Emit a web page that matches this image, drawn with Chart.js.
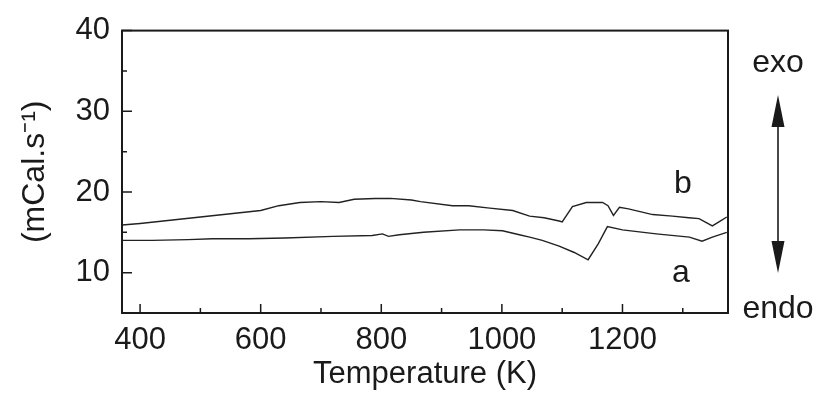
<!DOCTYPE html>
<html>
<head>
<meta charset="utf-8">
<script src="https://cdn.jsdelivr.net/npm/chart.js@4/dist/chart.umd.min.js"></script>
<style>
  html, body { margin: 0; padding: 0; background: #fff; }
  #wrap { width: 817px; height: 406px; }
</style>
</head>
<body>
<div id="wrap"><canvas id="dscChart" width="817" height="406"></canvas></div>
<script>
// DSC traces (temperature in K, heat flow in mCal/s)
const tempA = [370, 420, 480, 520, 580, 640, 720, 785, 802, 812, 830, 870, 930, 970, 1001, 1029, 1046, 1067, 1095, 1120, 1143, 1160, 1175, 1200, 1256, 1311, 1332, 1349, 1373];
const curveA = [14.0, 14.0, 14.1, 14.2, 14.2, 14.3, 14.5, 14.6, 14.8, 14.5, 14.7, 15.0, 15.3, 15.3, 15.2, 14.7, 14.4, 14.0, 13.3, 12.5, 11.6, 13.6, 15.7, 15.3, 14.8, 14.4, 13.9, 14.4, 15.0];

const tempB = [370, 400, 450, 500, 550, 600, 630, 665, 700, 730, 755, 790, 815, 850, 865, 918, 945, 980, 1018, 1046, 1070, 1095, 1100, 1117, 1140, 1167, 1176, 1185, 1195, 1210, 1250, 1283, 1310, 1327, 1349, 1360, 1373];
const curveB = [15.9, 16.1, 16.5, 16.9, 17.3, 17.7, 18.3, 18.7, 18.8, 18.7, 19.1, 19.2, 19.2, 19.0, 18.8, 18.3, 18.3, 18.0, 17.7, 17.0, 16.8, 16.4, 16.3, 18.2, 18.7, 18.7, 18.3, 17.1, 18.1, 17.9, 17.2, 17.0, 16.8, 16.7, 15.8, 16.3, 16.9];

const xTicks = [400, 600, 800, 1000, 1200];
const xMinor = [500, 700, 900, 1100, 1300];
const yTicks = [10, 20, 30, 40];
const yMinor = [15, 25, 35];

const FONT = '"Liberation Sans", Arial, Helvetica, sans-serif';
const INK = '#1a1a1a';

const toPoints = (xs, ys) => xs.map((x, i) => ({ x, y: ys[i] }));

// frame, inward ticks and the text notes
const decor = {
  id: 'decor',
  afterDraw(chart) {
    const { ctx, chartArea: a, scales: { x, y } } = chart;
    ctx.save();
    ctx.strokeStyle = INK;
    ctx.lineWidth = 2;
    ctx.strokeRect(a.left, a.top, a.right - a.left, a.bottom - a.top);

    ctx.lineWidth = 1.5;
    ctx.beginPath();
    xTicks.concat(xMinor).forEach(v => {
      const px = x.getPixelForValue(v);
      const len = xTicks.includes(v) ? 9 : 5;
      ctx.moveTo(px, a.bottom);
      ctx.lineTo(px, a.bottom - len);
    });
    yTicks.concat(yMinor).forEach(v => {
      const py = y.getPixelForValue(v);
      const len = yTicks.includes(v) ? 10 : 5;
      ctx.moveTo(a.left, py);
      ctx.lineTo(a.left + len, py);
    });
    ctx.stroke();

    ctx.fillStyle = INK;
    ctx.font = '32px ' + FONT;
    ctx.textAlign = 'center';
    ctx.textBaseline = 'alphabetic';
    ctx.fillText('b', x.getPixelForValue(1300), 193);
    ctx.fillText('a', x.getPixelForValue(1297), 282);

    const ax = a.right + 50;
    ctx.fillText('exo', ax, 72);
    ctx.fillText('endo', ax, 318);

    // double arrow
    const top = 95, bot = 273, head = 32, hw = 6.5;
    ctx.lineWidth = 1.6;
    ctx.beginPath();
    ctx.moveTo(ax, top + head - 2);
    ctx.lineTo(ax, bot - head + 2);
    ctx.stroke();
    ctx.beginPath();
    ctx.moveTo(ax, top);
    ctx.lineTo(ax - hw, top + head);
    ctx.lineTo(ax + hw, top + head);
    ctx.closePath();
    ctx.moveTo(ax, bot);
    ctx.lineTo(ax - hw, bot - head);
    ctx.lineTo(ax + hw, bot - head);
    ctx.closePath();
    ctx.fill();
    ctx.restore();
  }
};

new Chart(document.getElementById('dscChart').getContext('2d'), {
  type: 'line',
  data: {
    datasets: [
      { label: 'a', data: toPoints(tempA, curveA), borderColor: '#222', borderWidth: 1.4, pointRadius: 0, tension: 0, fill: false },
      { label: 'b', data: toPoints(tempB, curveB), borderColor: '#222', borderWidth: 1.4, pointRadius: 0, tension: 0, fill: false }
    ]
  },
  options: {
    responsive: false,
    animation: false,
    events: [],
    layout: { padding: { top: 28, right: 89, bottom: 0, left: 0 } },
    plugins: { legend: { display: false }, tooltip: { enabled: false } },
    scales: {
      x: {
        type: 'linear',
        min: 370,
        max: 1375,
        grid: { display: false, drawTicks: false },
        border: { display: false },
        afterBuildTicks: s => { s.ticks = xTicks.map(v => ({ value: v })); },
        afterFit: s => { s.height = 93; },
        ticks: { color: INK, font: { family: FONT, size: 31 }, padding: 9, maxRotation: 0, callback: v => String(v) },
        title: { display: true, text: 'Temperature (K)', color: INK, font: { family: FONT, size: 31 }, padding: { top: 0, bottom: 13 } }
      },
      y: {
        min: 5,
        max: 40,
        grid: { display: false, drawTicks: false },
        border: { display: false },
        afterBuildTicks: s => { s.ticks = yTicks.map(v => ({ value: v })); },
        afterFit: s => { s.width = 122; },
        ticks: { color: INK, font: { family: FONT, size: 31 }, padding: 12, callback: v => String(v) },
        title: { display: true, text: '(mCal.s⁻¹)', color: INK, font: { family: FONT, size: 32 }, padding: { top: 16, bottom: 0 } }
      }
    }
  },
  plugins: [decor]
});
</script>
</body>
</html>
